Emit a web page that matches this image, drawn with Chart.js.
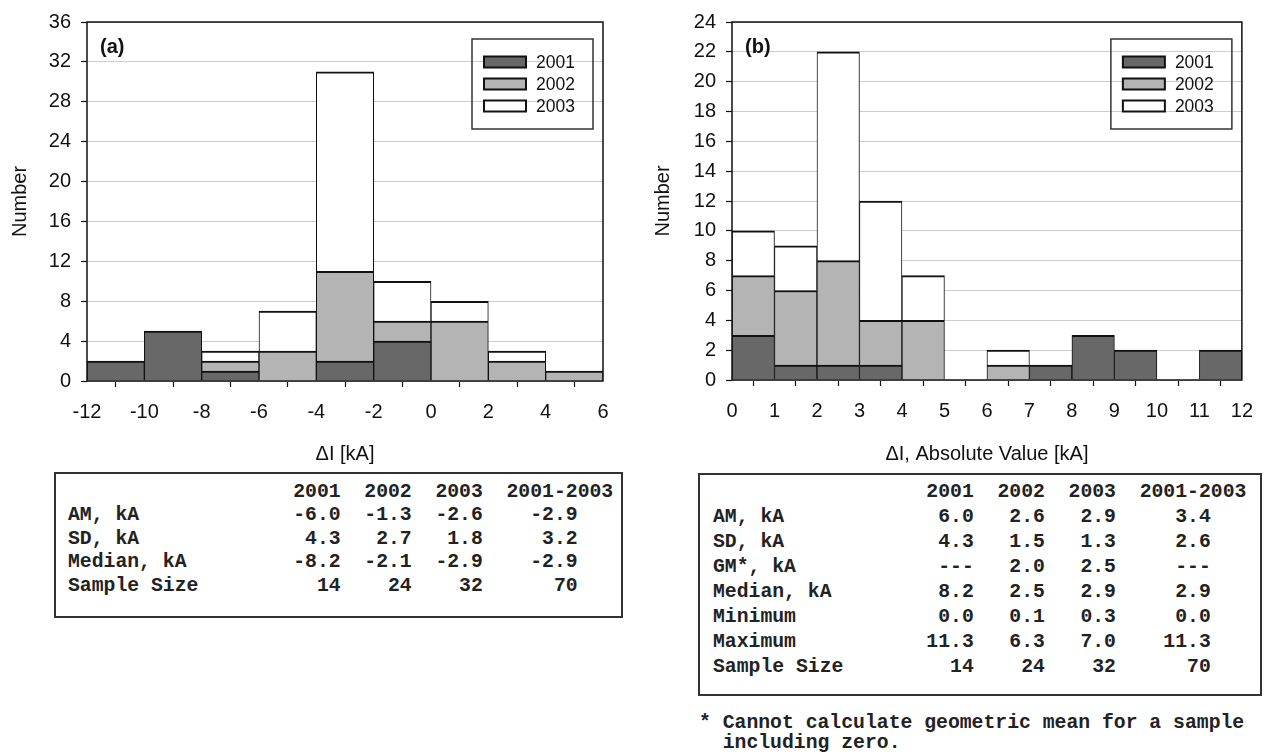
<!DOCTYPE html>
<html>
<head>
<meta charset="utf-8">
<script src="https://cdn.jsdelivr.net/npm/chart.js@4.4.1/dist/chart.umd.min.js"></script>
<style>
  body { margin: 0; background: #fff; width: 1266px; height: 755px; position: relative; overflow: hidden; }
  canvas { position: absolute; top: 0; }
  #chartA { left: 0; }
  #chartB { left: 640px; }
  .box { position: absolute; border: 2px solid #333; box-sizing: border-box; }
  .mono { position: absolute; margin: 0; font-family: "Liberation Mono", monospace; font-weight: bold; font-size: 19.75px; color: #222; white-space: pre; }
</style>
</head>
<body>
<canvas id="chartA" width="640" height="470"></canvas>
<canvas id="chartB" width="626" height="470"></canvas>

<div class="box" style="left:54px; top:472px; width:569px; height:146px;"></div>
<pre class="mono" id="tableA" style="left:68px; top:481px; line-height:23.4px;"></pre>

<div class="box" style="left:698px; top:473px; width:564px; height:223px;"></div>
<pre class="mono" id="tableB" style="left:713px; top:479.5px; line-height:25.1px;"></pre>
<pre class="mono" id="noteB" style="left:699px; top:712.5px; line-height:20.5px;"></pre>

<script>
// histogram data (counts per bin)
const years = ['2001', '2002', '2003'];
const yearColors = ['#686868', '#b4b4b4', '#ffffff'];

const edgesA = [-12, -10, -8, -6, -4, -2, 0, 2, 4, 6];
const countsA2001 = [2, 5, 1, 0, 2, 4, 0, 0, 0];
const countsA2002 = [0, 0, 1, 3, 9, 2, 6, 2, 1];
const countsA2003 = [0, 0, 1, 4, 20, 4, 2, 1, 0];
const yMaxA = 36, yStepA = 4;

const edgesB = [0, 1, 2, 3, 4, 5, 6, 7, 8, 9, 10, 11, 12];
const countsB2001 = [3, 1, 1, 1, 0, 0, 0, 1, 3, 2, 0, 2];
const countsB2002 = [4, 5, 7, 3, 4, 0, 1, 0, 0, 0, 0, 0];
const countsB2003 = [3, 3, 14, 8, 3, 0, 1, 0, 0, 0, 0, 0];
const yMaxB = 24, yStepB = 2;

// statistics tables
const statCols = ['2001', '2002', '2003', '2001-2003'];
const statRowsA = ['AM, kA', 'SD, kA', 'Median, kA', 'Sample Size'];
const statValsA = [
    ['-6.0', '-1.3', '-2.6', '-2.9'],
    ['4.3', '2.7', '1.8', '3.2'],
    ['-8.2', '-2.1', '-2.9', '-2.9'],
    ['14', '24', '32', '70']
];
const statRowsB = ['AM, kA', 'SD, kA', 'GM*, kA', 'Median, kA', 'Minimum', 'Maximum', 'Sample Size'];
const statValsB = [
    ['6.0', '2.6', '2.9', '3.4'],
    ['4.3', '1.5', '1.3', '2.6'],
    ['---', '2.0', '2.5', '---'],
    ['8.2', '2.5', '2.9', '2.9'],
    ['0.0', '0.1', '0.3', '0.0'],
    ['11.3', '6.3', '7.0', '11.3'],
    ['14', '24', '32', '70']
];
const noteB = ['* Cannot calculate geometric mean for a sample', '  including zero.'];

// right-aligned text columns (end position in characters)
const buildLine = (label, cells, ends) => {
    let s = label;
    cells.forEach((c, i) => { s = s.padEnd(ends[i] - c.length) + c; });
    return s;
};
const buildTable = (rows, vals, ends, headEnds) => {
    const lines = [buildLine('', statCols, headEnds)];
    rows.forEach((r, i) => lines.push(buildLine(r, vals[i], ends)));
    return lines.join('\n');
};
document.getElementById('tableA').textContent = buildTable(statRowsA, statValsA, [23, 29, 35, 43], [23, 29, 35, 46]);
document.getElementById('tableB').textContent = buildTable(statRowsB, statValsB, [22, 28, 34, 42], [22, 28, 34, 45]);
document.getElementById('noteB').textContent = noteB.join('\n');

// frame, panel tag and legend drawn inside the plot area
const framePlugin = {
    id: 'frame',
    afterDatasetsDraw(chart, args, opts) {
        const { ctx, chartArea: a } = chart;
        ctx.save();
        ctx.strokeStyle = '#111';
        ctx.lineWidth = 1.5;
        ctx.strokeRect(a.left, a.top, a.width, a.height);

        ctx.fillStyle = '#111';
        ctx.font = 'bold 20px "Liberation Sans", Arial, sans-serif';
        ctx.textBaseline = 'alphabetic';
        ctx.fillText(opts.tag, a.left + 13, a.top + 31);

        const bw = 121, bh = 90;
        const bx = a.right - 10 - bw, by = a.top + 17;
        ctx.strokeStyle = '#333';
        ctx.lineWidth = 1.5;
        ctx.strokeRect(bx, by, bw, bh);
        ctx.font = '17.5px "Liberation Sans", Arial, sans-serif';
        ctx.textBaseline = 'middle';
        chart.data.datasets.forEach((ds, i) => {
            const cy = by + 23 + i * 22;
            ctx.fillStyle = ds.backgroundColor;
            ctx.fillRect(bx + 12, cy - 5.5, 42, 11);
            ctx.strokeStyle = '#111';
            ctx.lineWidth = 2;
            ctx.strokeRect(bx + 12, cy - 5.5, 42, 11);
            ctx.fillStyle = '#111';
            ctx.fillText(ds.label, bx + 64, cy + 1);
        });
        ctx.restore();
    }
};

const makeHistogram = (id, edges, counts, yMax, yStep, xTitle, tag, dims) => {
    const datasets = counts.map((c, k) => ({
        label: years[k],
        data: c.map((v, i) => ({ x: (edges[i] + edges[i + 1]) / 2, y: v })),
        backgroundColor: yearColors[k],
        borderColor: '#111',
        borderWidth: { top: 2, right: 1, bottom: 0, left: 1 },
        borderSkipped: false,
        barPercentage: 1,
        categoryPercentage: 1
    }));
    const tickFont = { family: '"Liberation Sans", Arial, sans-serif', size: 20 };
    // eslint-disable-next-line no-undef
    return new Chart(document.getElementById(id), {
        type: 'bar',
        data: { datasets },
        plugins: [framePlugin],
        options: {
            responsive: false,
            animation: false,
            layout: { padding: { top: 20, right: dims.right, left: 0, bottom: 0 } },
            plugins: {
                legend: { display: false },
                tooltip: { enabled: false },
                frame: { tag }
            },
            scales: {
                x: {
                    type: 'linear',
                    stacked: true,
                    offset: false,
                    min: edges[0],
                    max: edges[edges.length - 1],
                    afterBuildTicks: (scale) => { scale.ticks = edges.map(v => ({ value: v })); },
                    afterFit: (scale) => { scale.height = dims.xh; },
                    grid: { drawOnChartArea: false, drawTicks: true, tickLength: 6, tickColor: '#111', tickWidth: 1.2 },
                    border: { display: false },
                    ticks: { font: tickFont, color: '#111', padding: 13, maxRotation: 0, autoSkip: false },
                    title: { display: true, text: xTitle, font: tickFont, color: '#111', padding: { bottom: 4 } }
                },
                y: {
                    stacked: true,
                    min: 0,
                    max: yMax,
                    afterFit: (scale) => { scale.width = dims.yw; },
                    grid: { color: '#cdcdcd', lineWidth: 1, drawTicks: true, tickLength: 6, tickColor: '#111', tickWidth: 1.2 },
                    border: { display: false },
                    ticks: { stepSize: yStep, font: tickFont, color: '#111', padding: 10 },
                    title: { display: true, text: 'Number', font: tickFont, color: '#111', padding: { top: dims.tp } }
                }
            }
        }
    });
};

makeHistogram('chartA', edgesA, [countsA2001, countsA2002, countsA2003], yMaxA, yStepA,
    '\u0394I [kA]', '(a)', { right: 37, xh: 89, yw: 87, tp: 8 });
makeHistogram('chartB', edgesB, [countsB2001, countsB2002, countsB2003], yMaxB, yStepB,
    '\u0394I, Absolute Value [kA]', '(b)', { right: 19, xh: 90, yw: 92, tp: 11 });
</script>
</body>
</html>
